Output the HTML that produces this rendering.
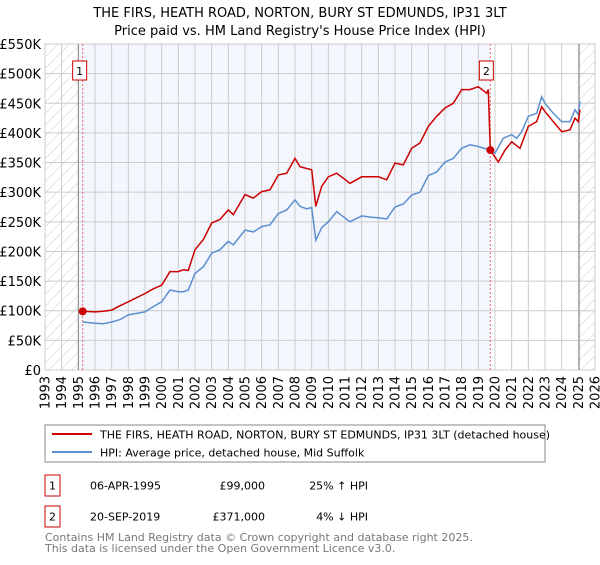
<!DOCTYPE html>
<html><head><meta charset="utf-8"><style>
body{margin:0;background:#fff;font-family:"Liberation Sans","DejaVu Sans",sans-serif;}
svg text{font-family:"DejaVu Sans","Liberation Sans",sans-serif;}
</style></head><body>
<svg id="chart" width="600" height="560" viewBox="0 0 600 560" xmlns="http://www.w3.org/2000/svg">
<defs>
<pattern id="hatch" patternUnits="userSpaceOnUse" width="8" height="8" patternTransform="rotate(45)">
<line x1="0" y1="0" x2="0" y2="8" stroke="#ccc" stroke-width="1"/>
</pattern>
</defs>
<text x="300" y="17" text-anchor="middle" font-size="13">THE FIRS, HEATH ROAD, NORTON, BURY ST EDMUNDS, IP31 3LT</text>
<text x="300" y="35" text-anchor="middle" font-size="13">Price paid vs. HM Land Registry's House Price Index (HPI)</text>
<g id="plot"></g>
<g>
<rect x="45" y="425" width="500" height="37" fill="#fff" stroke="#888"/>
<line x1="52" y1="434" x2="92" y2="434" stroke="#cc0000" stroke-width="2"/>
<text x="100" y="438.5" font-size="11">THE FIRS, HEATH ROAD, NORTON, BURY ST EDMUNDS, IP31 3LT (detached house)</text>
<line x1="52" y1="452" x2="92" y2="452" stroke="#5b8fd0" stroke-width="2"/>
<text x="100" y="456.5" font-size="11">HPI: Average price, detached house, Mid Suffolk</text>
</g>
<g font-size="11">
<rect x="45" y="475" width="15" height="21" fill="#fff" stroke="#cc0000"/>
<text x="52.5" y="489.5" text-anchor="middle">1</text>
<text x="90" y="489.5">06-APR-1995</text>
<text x="265" y="489.5" text-anchor="end">£99,000</text>
<text x="368" y="489.5" text-anchor="end">25% ↑ HPI</text>
</g>
<g font-size="11">
<rect x="45" y="506" width="15" height="21" fill="#fff" stroke="#cc0000"/>
<text x="52.5" y="520.5" text-anchor="middle">2</text>
<text x="90" y="520.5">20-SEP-2019</text>
<text x="265" y="520.5" text-anchor="end">£371,000</text>
<text x="368" y="520.5" text-anchor="end">4% ↓ HPI</text>
</g>
<text x="45" y="541" font-size="11" fill="#777">Contains HM Land Registry data © Crown copyright and database right 2025.</text>
<text x="45" y="552" font-size="11" fill="#777">This data is licensed under the Open Government Licence v3.0.</text>
</svg>
<script>
const hpiYears=[1995.26,1996,1996.5,1997,1997.5,1998,1999,1999.5,2000,2000.5,2001,2001.3,2001.6,2002,2002.5,2003,2003.5,2004,2004.3,2005,2005.5,2006,2006.5,2007,2007.5,2008,2008.3,2008.7,2009,2009.25,2009.6,2010,2010.5,2011.3,2012,2012.5,2013,2013.5,2014,2014.5,2015,2015.5,2016,2016.5,2017,2017.5,2018,2018.5,2019,2019.72,2020,2020.5,2021,2021.3,2021.6,2022,2022.5,2022.8,2023,2023.5,2024,2024.5,2024.8,2025.0,2025.1];
const hpiValues=[81,79,78,81,85,93,98,107,115,135,132,132,135,163,174,197,203,217,211,236,233,242,245,264,270,287,276,272,274,219,240,250,267,250,260,258,257,255,275,280,295,300,328,334,351,357,374,380,377,371,366,391,397,391,402,428,433,461,450,433,419,419,439,431,453];
const priceYears=[1995.26,1996,1996.5,1997,1997.4,1998,1999,1999.5,2000,2000.5,2001,2001.3,2001.6,2002,2002.5,2003,2003.5,2004,2004.3,2005,2005.5,2006,2006.5,2007,2007.5,2008,2008.3,2008.7,2009,2009.25,2009.6,2010,2010.5,2011.3,2012,2013,2013.5,2014,2014.5,2015,2015.5,2016,2016.5,2017,2017.5,2018,2018.5,2019,2019.5,2019.6,2019.72,2020.2,2020.6,2021,2021.5,2022,2022.5,2022.8,2023,2023.5,2024,2024.5,2024.8,2025.0,2025.1];
const priceValues=[99,98,99,101,107,115,129,137,143,166,166,169,168,203,220,248,254,270,262,296,290,301,304,329,332,357,343,340,338,276,310,326,332,315,326,326,321,349,346,374,383,411,428,442,450,473,473,478,467,473,371,351,371,385,374,411,419,444,436,419,402,405,425,419,439];
const saleYears=[1995.26,2019.72];
const saleValues=[99,371];
const saleLabels=['1','2'];
const yTicks=[0,50,100,150,200,250,300,350,400,450,500,550];
const yTickLabels=['£0','£50K','£100K','£150K','£200K','£250K','£300K','£350K','£400K','£450K','£500K','£550K'];
const xTicks=[1993,1994,1995,1996,1997,1998,1999,2000,2001,2002,2003,2004,2005,2006,2007,2008,2009,2010,2011,2012,2013,2014,2015,2016,2017,2018,2019,2020,2021,2022,2023,2024,2025,2026];

const L=45,R=595,T=44,B=370,X0=1993,X1=2026,YMAX=550;
const sx=v=>L+(v-X0)/(X1-X0)*(R-L);
const sy=v=>B-v/YMAX*(B-T);
const NS='http://www.w3.org/2000/svg';
const g=document.getElementById('plot');
function mk(t,a,p){const e=document.createElementNS(NS,t);for(const k in a)e.setAttribute(k,a[k]);(p||g).appendChild(e);return e;}

let e=mk('rect',{x:sx(1995),y:T,width:sx(2019.72)-sx(1995),height:B-T,fill:'#f3f6fd'});


e=mk('rect',{x:L,y:T,width:sx(1995)-L,height:B-T,fill:'url(#hatch)'});


e=mk('rect',{x:sx(2025.05),y:T,width:R-sx(2025.05),height:B-T,fill:'url(#hatch)'});



yTicks.forEach((v,i)=>{
  const l=mk('line',{x1:L,x2:R,y1:sy(v),y2:sy(v),stroke:'#ccc','stroke-width':1});
  
  
  const t=mk('text',{x:L-4,y:sy(v)+5,'text-anchor':'end','font-size':13});
  t.textContent=yTickLabels[i];
  
  
});
xTicks.forEach(v=>{
  const l=mk('line',{x1:sx(v),x2:sx(v),y1:T,y2:B,stroke:'#ccc','stroke-width':1});
  
  
  const t=mk('text',{x:0,y:0,'text-anchor':'end','font-size':13,transform:`translate(${sx(v)+4.5},${B+6}) rotate(-90)`});
  t.textContent=v;
  
  
});
e=mk('rect',{x:L,y:T,width:R-L,height:B-T,fill:'none',stroke:'#ccc'});


[1995,2025.05].forEach(v=>{
  const l=mk('line',{x1:sx(v),x2:sx(v),y1:T,y2:B,stroke:'#888','stroke-width':1});
  
  
});
saleYears.forEach(v=>{
  const l=mk('line',{x1:sx(v),x2:sx(v),y1:T,y2:B,stroke:'#e66','stroke-width':1,'stroke-dasharray':'2,2'});
  
  
});
function path(xs,ys){return xs.map((x,i)=>(i?'L':'M')+sx(x).toFixed(1)+','+sy(ys[i]).toFixed(1)).join('');}
e=mk('path',{d:path(hpiYears,hpiValues),fill:'none',stroke:'#5b8fd0','stroke-width':1.5});


e=mk('path',{d:path(priceYears,priceValues),fill:'none',stroke:'#cc0000','stroke-width':1.5});


saleYears.forEach((v,i)=>{
  const c=mk('circle',{cx:sx(v),cy:sy(saleValues[i]),r:4,fill:'#cc0000'});
  
  
  const bx=sx(v)-(i===0?3:4)-7;
  const r=mk('rect',{x:bx,y:61,width:14,height:19,fill:'#fff',stroke:'#cc0000'});
  
  
  const t=mk('text',{x:bx+7,y:75,'text-anchor':'middle','font-size':11});
  t.textContent=saleLabels[i];
  
  
});
</script>
</body></html>
